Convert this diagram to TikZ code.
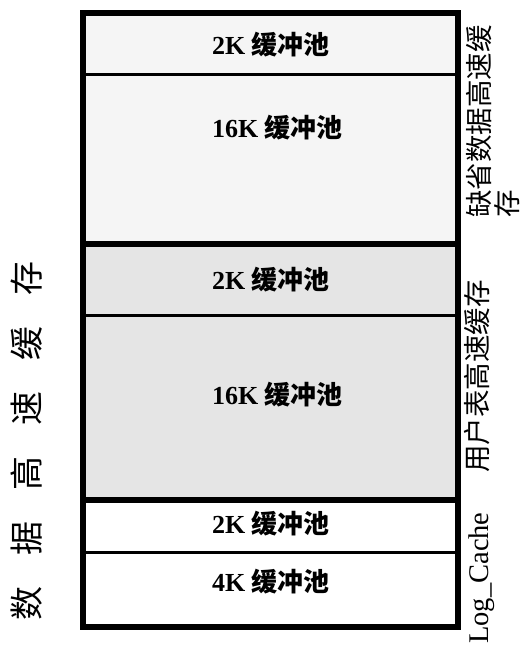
\documentclass[tikz,border=0pt]{standalone}
\usepackage{fontspec}
\setmainfont{Liberation Serif}
\newfontfamily\cjk{Noto Sans CJK SC}
\definecolor{topfill}{HTML}{F5F5F5}
\definecolor{midfill}{HTML}{E5E5E5}
\begin{document}
\begin{tikzpicture}[x=1pt,y=-1pt,
  pool/.style={anchor=west,inner sep=0pt,font=\fontsize{26}{28}\selectfont\bfseries},
  sidelbl/.style={rotate=90,inner sep=0pt,font=\fontsize{27.5}{28}\selectfont\cjk},
  thinsep/.style={line width=3pt},
  thicksep/.style={line width=5.5pt},
  border/.style={line width=6pt}]
\useasboundingbox (0,0) rectangle (522,646);
\fill[white] (0,0) rectangle (522,646);
\fill[topfill] (83,13) rectangle (457,244);
\fill[midfill] (83,244) rectangle (457,500);
\fill[white] (83,500) rectangle (457,627);
\draw[thinsep] (83,74.5) -- (457,74.5);
\draw[thinsep] (83,315.5) -- (457,315.5);
\draw[thinsep] (83,552) -- (457,552);
\draw[thicksep] (83,244) -- (457,244);
\draw[thicksep] (83,500) -- (457,500);
\draw[border] (83,13) rectangle (457.5,627);
\node[pool] (p1) at (212,45) {2K {\cjk 缓冲池}};
\node[pool] (p2) at (212,128) {16K {\cjk 缓冲池}};
\node[pool] (p3) at (212,280) {2K {\cjk 缓冲池}};
\node[pool] (p4) at (212,395) {16K {\cjk 缓冲池}};
\node[pool] (p5) at (212,524) {2K {\cjk 缓冲池}};
\node[pool] (p6) at (212,582) {4K {\cjk 缓冲池}};
\node[rotate=90,inner sep=0pt,font=\fontsize{34}{36}\selectfont\cjk] (dc) at (27,441)
  {数\hspace{31pt}据\hspace{31pt}高\hspace{31pt}速\hspace{31pt}缓\hspace{31pt}存};
\node[sidelbl,anchor=north west,align=left] (def) at (466,218) {缺省数据高速缓\\存};
\node[sidelbl,anchor=base west] (usr) at (487,473) {用户表高速缓存};
\node[rotate=90,inner sep=0pt,anchor=base west,font=\fontsize{28.5}{30}\selectfont] (log) at (488,644) {Log\_Cache};
\end{tikzpicture}
\end{document}
